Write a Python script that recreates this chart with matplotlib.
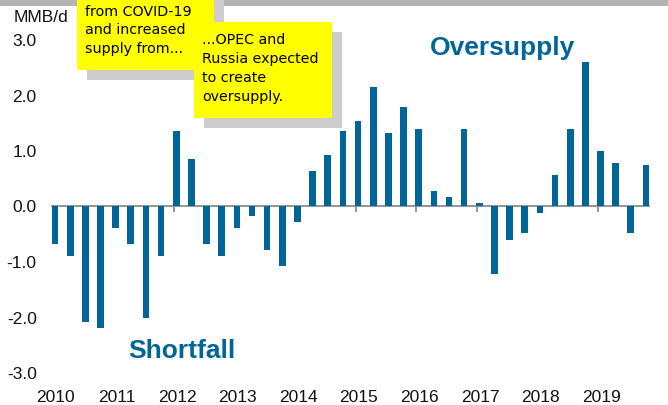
import matplotlib
matplotlib.use('Agg')
import matplotlib.pyplot as plt
from matplotlib.patches import Rectangle
import numpy as np

years = ['2010', '2011', '2012', '2013', '2014', '2015', '2016', '2017', '2018', '2019']
quarters_per_year = 4
balance = [-0.70, -0.91, -2.10, -2.21,
           -0.41, -0.70, -2.03, -0.91,
           1.35, 0.84, -0.70, -0.91,
           -0.41, -0.19, -0.80, -1.09,
           -0.30, 0.63, 0.91, 1.35,
           1.53, 2.14, 1.31, 1.78,
           1.38, 0.26, 0.16, 1.38,
           0.05, -1.24, -0.63, -0.49,
           -0.13, 0.55, 1.38, 2.59,
           0.99, 0.77, -0.49, 0.73]
y_ticks = [-3.0, -2.0, -1.0, 0.0, 1.0, 2.0, 3.0]
unit_label = 'MMB/d'
note1 = ['from COVID-19', 'and increased', 'supply from...']
note2 = ['...OPEC and', 'Russia expected', 'to create', 'oversupply.']

plt.rcParams['font.family'] = ['Liberation Sans', 'DejaVu Sans']
plt.rcParams['axes.unicode_minus'] = False

W, H = 668, 406
fig = plt.figure(figsize=(W / 100, H / 100), dpi=100)


def fx(px):
    return px / W


def fy(py):
    return 1 - py / H


bar_color = '#006699'
axis_gray = '#8c8c8c'

ax = fig.add_axes([fx(52), fy(373), fx(597), 333 / H])
x = np.arange(len(balance))
ax.bar(x, balance, width=0.44, color=bar_color, zorder=3)
ax.set_xlim(-0.2, len(balance) - 0.8)
ax.set_ylim(-3, 3)
ax.set_yticks(y_ticks)
ax.set_yticklabels([f'{v:.1f}' for v in y_ticks])
ax.tick_params(axis='y', length=0, pad=11, labelsize=12.5, labelcolor='#111111')
for s in ['top', 'right', 'left']:
    ax.spines[s].set_visible(False)
ax.spines['bottom'].set_position(('data', 0))
ax.spines['bottom'].set_color(axis_gray)
ax.spines['bottom'].set_linewidth(1.3)
year_pos = x[::quarters_per_year]
ax.set_xticks(year_pos - 0.15)
ax.set_xticklabels([])
ax.tick_params(axis='x', length=4, color=axis_gray, width=1.3, direction='out')

sec = ax.secondary_xaxis(0.0)
sec.set_xticks(year_pos + 0.05, labels=years)
sec.tick_params(length=0, pad=12, labelsize=12.5, labelcolor='#111111')
sec.spines['bottom'].set_visible(False)

# top gray band
fig.patches.append(Rectangle((0, fy(7)), 1, 7 / H, transform=fig.transFigure,
                             facecolor='#b3b3b3', edgecolor='none', zorder=0))

# note boxes with shadows
def note_box(left, top, right, bottom, z):
    fig.patches.append(Rectangle((fx(left + 10), fy(bottom + 10)), fx(right - left),
                                 (bottom - top) / H, transform=fig.transFigure,
                                 facecolor='#cccccc', edgecolor='none', zorder=z))
    fig.patches.append(Rectangle((fx(left), fy(bottom)), fx(right - left),
                                 (bottom - top) / H, transform=fig.transFigure,
                                 facecolor='#ffff00', edgecolor='none', zorder=z + 0.1))

note_box(77, -40, 214, 70.7, 1)
note_box(194, 23.3, 332, 118.7, 2)

for line, yy in zip(note1, [11.5, 30.5, 49.5]):
    fig.text(fx(85), fy(yy), line, fontsize=10.3, family='DejaVu Sans',
             va='center', ha='left', color='#000000', zorder=3)
for line, yy in zip(note2, [40, 59.3, 78.5, 97.5]):
    fig.text(fx(202.5), fy(yy), line, fontsize=10.3, family='DejaVu Sans',
             va='center', ha='left', color='#000000', zorder=3)

fig.text(fx(14), fy(17), unit_label, fontsize=12.5, va='center', ha='left', color='#111111')
fig.text(fx(502.5), fy(55), 'Oversupply', fontsize=19, weight='bold',
         color=bar_color, ha='center', va='baseline')
fig.text(fx(181.5), fy(358), 'Shortfall', fontsize=19, weight='bold',
         color=bar_color, ha='center', va='baseline')

fig.savefig('out.png', dpi=100)
